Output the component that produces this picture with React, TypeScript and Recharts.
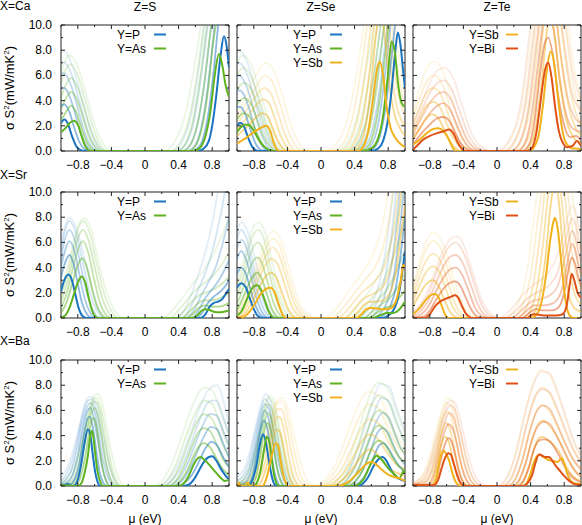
import { LineChart, Line, XAxis, YAxis, ReferenceArea } from 'recharts'

// Power factor sigma*S^2 (mW/mK^2) vs chemical potential mu (eV).
// Each array: first curve = lowest temperature (drawn bold), then hotter curves (drawn fainter).
type Curve = number[][]

const caS_P: Curve[] = [
  [[-1,2.2],[-0.96,2.5],[-0.92,2.2],[-0.87,1.2],[-0.82,0.4],[-0.77,0.08],[-0.72,0],[0.62,0],[0.7,0.2],[0.76,0.8],[0.8,2],[0.85,4.5],[0.9,7.6],[0.94,9.1],[0.97,8.4],[1,6.6]],
  [[-1,3.6],[-0.96,3.7],[-0.9,3.1],[-0.84,1.8],[-0.78,0.7],[-0.72,0.15],[-0.66,0],[0.56,0],[0.64,0.3],[0.7,1.2],[0.76,3.2],[0.82,6.5],[0.88,10.5],[0.94,13]],
  [[-1,5.0],[-0.96,5.0],[-0.9,4.4],[-0.83,2.9],[-0.76,1.3],[-0.69,0.35],[-0.62,0],[0.5,0],[0.59,0.4],[0.66,1.6],[0.73,4.2],[0.8,8.2],[0.86,12]],
  [[-1,6.2],[-0.95,6.1],[-0.88,5.2],[-0.8,3.4],[-0.72,1.5],[-0.64,0.4],[-0.56,0],[0.44,0],[0.54,0.5],[0.62,2],[0.7,5],[0.77,9],[0.84,13]],
  [[-1,7.1],[-0.95,7.0],[-0.87,6.0],[-0.78,3.9],[-0.69,1.8],[-0.6,0.5],[-0.51,0],[0.38,0],[0.49,0.6],[0.58,2.3],[0.66,5.5],[0.74,9.6],[0.82,14]],
  [[-1,8.0],[-0.94,7.8],[-0.86,6.7],[-0.76,4.4],[-0.66,2.0],[-0.56,0.5],[-0.46,0],[0.32,0],[0.44,0.7],[0.54,2.6],[0.63,6],[0.71,10],[0.8,15]],
]
const caS_As: Curve[] = [
  [[-1,1.5],[-0.95,1.8],[-0.9,2.2],[-0.85,2.4],[-0.8,2.1],[-0.76,1.3],[-0.72,0.5],[-0.68,0.1],[-0.64,0],[0.58,0],[0.66,0.3],[0.72,1.2],[0.78,3.2],[0.83,6],[0.88,7.7],[0.92,6.8],[0.96,5.2],[1,4.3]],
  [[-1,2.4],[-0.94,3.1],[-0.88,3.6],[-0.82,3.1],[-0.76,1.9],[-0.7,0.8],[-0.64,0.2],[-0.58,0],[0.52,0],[0.61,0.5],[0.68,1.9],[0.75,4.8],[0.81,8.5],[0.87,11]],
  [[-1,3.3],[-0.94,4.2],[-0.88,4.7],[-0.81,4.1],[-0.74,2.7],[-0.67,1.2],[-0.6,0.35],[-0.53,0],[0.45,0],[0.55,0.6],[0.63,2.3],[0.71,5.6],[0.78,9.5],[0.85,12.5]],
  [[-1,4.2],[-0.94,5.3],[-0.88,5.8],[-0.8,5.0],[-0.72,3.3],[-0.64,1.5],[-0.56,0.4],[-0.48,0],[0.38,0],[0.49,0.7],[0.58,2.7],[0.67,6.4],[0.75,10.5],[0.82,13]],
  [[-1,5.3],[-0.95,6.4],[-0.89,6.9],[-0.8,6.0],[-0.71,4.0],[-0.62,1.9],[-0.53,0.5],[-0.44,0],[0.3,0],[0.43,0.8],[0.54,3],[0.64,7],[0.72,11],[0.8,14]],
  [[-1,6.1],[-0.95,7.2],[-0.9,7.6],[-0.8,6.7],[-0.7,4.5],[-0.6,2.1],[-0.5,0.6],[-0.4,0],[0.22,0],[0.36,0.8],[0.49,3.2],[0.6,7.2],[0.69,11],[0.78,14]],
]
const caSe_P: Curve[] = [
  [[-1,2.0],[-0.96,2.25],[-0.92,2.0],[-0.87,1.1],[-0.82,0.35],[-0.77,0.05],[-0.72,0],[0.6,0],[0.68,0.2],[0.74,0.8],[0.79,2.2],[0.84,4.8],[0.88,7.6],[0.915,9.4],[0.95,8.2],[0.98,6.2],[1,5.0]],
  [[-1,3.5],[-0.96,3.5],[-0.9,2.9],[-0.84,1.7],[-0.78,0.6],[-0.72,0.1],[-0.66,0],[0.56,0],[0.64,0.3],[0.71,1.4],[0.78,4],[0.84,7.5],[0.9,11],[0.96,13]],
  [[-1,4.8],[-0.96,4.8],[-0.9,4.2],[-0.83,2.8],[-0.76,1.2],[-0.69,0.3],[-0.62,0],[0.5,0],[0.59,0.4],[0.67,1.8],[0.74,4.8],[0.81,9],[0.87,12.5]],
  [[-1,6.0],[-0.95,5.9],[-0.88,5.0],[-0.8,3.3],[-0.72,1.5],[-0.64,0.4],[-0.56,0],[0.44,0],[0.54,0.5],[0.63,2.2],[0.71,5.5],[0.78,9.5],[0.85,13]],
  [[-1,7.0],[-0.95,6.9],[-0.87,5.9],[-0.78,3.8],[-0.69,1.7],[-0.6,0.5],[-0.51,0],[0.38,0],[0.49,0.6],[0.59,2.5],[0.67,6],[0.75,10],[0.83,14]],
  [[-1,8.0],[-0.94,7.8],[-0.86,6.7],[-0.76,4.4],[-0.66,2.0],[-0.56,0.5],[-0.46,0],[0.32,0],[0.44,0.7],[0.55,2.8],[0.64,6.5],[0.72,10.5],[0.8,15]],
]
const caSe_As: Curve[] = [
  [[-1,1.5],[-0.95,1.9],[-0.9,2.1],[-0.85,2.05],[-0.8,1.6],[-0.75,1.0],[-0.7,0.5],[-0.65,0.2],[-0.6,0.05],[-0.56,0],[0.5,0],[0.6,0.2],[0.68,1.0],[0.74,2.8],[0.79,5.6],[0.84,8.7],[0.88,7.8],[0.92,5.2],[0.96,3.8],[1,3.5]],
  [[-1,2.5],[-0.92,3.0],[-0.85,2.7],[-0.78,1.7],[-0.71,0.7],[-0.64,0.15],[-0.57,0],[0.46,0],[0.56,0.4],[0.64,1.8],[0.71,4.6],[0.77,8],[0.83,11],[0.9,12.5]],
  [[-1,3.7],[-0.92,4.2],[-0.84,3.8],[-0.76,2.5],[-0.68,1.1],[-0.6,0.3],[-0.52,0],[0.4,0],[0.5,0.5],[0.59,2.1],[0.67,5.4],[0.74,9.3],[0.81,12.5]],
  [[-1,4.8],[-0.92,5.4],[-0.83,4.9],[-0.74,3.3],[-0.65,1.5],[-0.56,0.4],[-0.47,0],[0.33,0],[0.44,0.6],[0.54,2.5],[0.63,6],[0.71,10],[0.79,13.5]],
  [[-1,6.0],[-0.93,6.6],[-0.83,5.9],[-0.73,4.0],[-0.63,1.8],[-0.53,0.5],[-0.43,0],[0.26,0],[0.38,0.7],[0.49,2.8],[0.59,6.5],[0.68,10.5],[0.77,14]],
  [[-1,7.0],[-0.93,7.6],[-0.83,6.8],[-0.72,4.6],[-0.61,2.1],[-0.5,0.6],[-0.39,0],[0.18,0],[0.32,0.8],[0.44,3],[0.55,7],[0.65,11],[0.75,14.5]],
]
const caSe_Sb: Curve[] = [
  [[-1,0.6],[-0.9,1.0],[-0.8,1.5],[-0.7,1.9],[-0.65,2.0],[-0.6,1.5],[-0.56,0.6],[-0.52,0.1],[-0.49,0],[0.44,0],[0.5,0.3],[0.56,1.5],[0.62,4.2],[0.67,6.6],[0.7,7.1],[0.74,6.0],[0.78,3.6],[0.83,1.8],[0.88,1.1],[0.94,0.6],[1,0.3]],
  [[-1,1.2],[-0.9,1.8],[-0.8,2.5],[-0.7,3.0],[-0.64,2.8],[-0.58,1.9],[-0.52,0.9],[-0.46,0.25],[-0.4,0],[0.38,0],[0.46,0.5],[0.54,2.2],[0.6,5.5],[0.66,9.5],[0.71,11],[0.76,9],[0.82,5],[0.88,2.8],[0.94,1.8],[1,1.2]],
  [[-1,1.7],[-0.9,2.5],[-0.8,3.4],[-0.69,4.1],[-0.62,3.8],[-0.55,2.6],[-0.48,1.2],[-0.41,0.35],[-0.34,0],[0.3,0],[0.4,0.6],[0.5,2.6],[0.58,6.5],[0.65,11],[0.71,12.5],[0.77,10.5],[0.84,6],[0.9,3.6],[0.96,2.4],[1,2]],
  [[-1,2.1],[-0.9,3.1],[-0.79,4.2],[-0.68,5.0],[-0.6,4.6],[-0.52,3.2],[-0.44,1.5],[-0.36,0.4],[-0.28,0],[0.22,0],[0.34,0.7],[0.45,3],[0.55,7.5],[0.63,12],[0.71,14],[0.78,12],[0.86,7],[0.93,4.2],[1,2.8]],
  [[-1,2.5],[-0.9,3.7],[-0.78,5.0],[-0.67,6.0],[-0.58,5.5],[-0.49,3.8],[-0.4,1.8],[-0.31,0.5],[-0.22,0],[0.14,0],[0.28,0.8],[0.4,3.4],[0.51,8],[0.61,13],[0.71,15],[0.8,13],[0.88,8],[0.95,5],[1,3.6]],
  [[-1,2.9],[-0.9,4.3],[-0.78,5.9],[-0.66,7.0],[-0.56,6.4],[-0.46,4.4],[-0.36,2.1],[-0.26,0.6],[-0.16,0],[0.06,0],[0.22,0.9],[0.36,3.8],[0.48,8.5],[0.59,14],[0.71,16],[0.82,14],[0.9,9],[1,4.5]],
]
const caTe_Sb: Curve[] = [
  [[-1,0.5],[-0.92,0.9],[-0.84,1.4],[-0.76,1.75],[-0.7,1.8],[-0.64,1.6],[-0.58,1.0],[-0.53,0.3],[-0.49,0],[0.38,0],[0.44,0.3],[0.5,1.4],[0.55,3.8],[0.6,6.8],[0.64,7.9],[0.68,7.0],[0.72,4.6],[0.76,2.4],[0.8,1.0],[0.85,0.4],[0.9,0.2],[0.95,0.2],[1,0.1]],
  [[-1,1.0],[-0.92,1.8],[-0.84,2.6],[-0.77,2.9],[-0.7,2.6],[-0.62,1.6],[-0.55,0.7],[-0.49,0.2],[-0.44,0],[0.32,0],[0.4,0.5],[0.47,2.2],[0.54,6],[0.6,9.8],[0.64,10.5],[0.69,9],[0.75,5.5],[0.82,2.6],[0.9,1.2],[1,0.6]],
  [[-1,1.5],[-0.92,2.6],[-0.84,3.6],[-0.76,3.9],[-0.68,3.5],[-0.6,2.2],[-0.52,1.0],[-0.44,0.3],[-0.37,0],[0.25,0],[0.34,0.6],[0.43,2.6],[0.51,7],[0.58,11.5],[0.64,12.5],[0.7,11],[0.77,7],[0.85,3.6],[0.93,1.9],[1,1.2]],
  [[-1,2.1],[-0.92,3.4],[-0.84,4.6],[-0.76,5.0],[-0.67,4.5],[-0.58,2.9],[-0.49,1.3],[-0.4,0.35],[-0.3,0],[0.18,0],[0.28,0.7],[0.38,3],[0.48,8],[0.56,13],[0.64,14.5],[0.71,13],[0.79,8.5],[0.88,4.5],[0.95,2.8],[1,2]],
  [[-1,2.6],[-0.92,4.2],[-0.84,5.5],[-0.75,6.0],[-0.66,5.4],[-0.56,3.5],[-0.46,1.6],[-0.36,0.45],[-0.23,0],[0.1,0],[0.22,0.8],[0.34,3.4],[0.45,9],[0.55,14],[0.64,16],[0.72,14.5],[0.81,10],[0.9,5.5],[1,3]],
  [[-1,3.1],[-0.92,5.0],[-0.84,6.5],[-0.75,7.1],[-0.65,6.4],[-0.54,4.2],[-0.43,1.9],[-0.32,0.5],[-0.16,0],[0.02,0],[0.16,0.9],[0.3,3.8],[0.42,10],[0.53,15],[0.64,17],[0.73,15.5],[0.83,11],[0.92,6.5],[1,4]],
]
const caTe_Bi: Curve[] = [
  [[-1,0.1],[-0.94,0.5],[-0.88,0.9],[-0.8,1.2],[-0.72,1.4],[-0.64,1.55],[-0.57,1.7],[-0.52,1.4],[-0.47,0.7],[-0.42,0.2],[-0.38,0],[0.36,0],[0.42,0.3],[0.47,1.5],[0.52,4.0],[0.57,6.4],[0.61,7.0],[0.65,5.8],[0.69,3.6],[0.73,1.8],[0.78,0.7],[0.84,0.3],[0.9,0.4],[0.95,0.8],[1,0.4]],
  [[-1,0.5],[-0.9,1.4],[-0.8,2.1],[-0.71,2.6],[-0.64,2.7],[-0.57,2.4],[-0.5,1.5],[-0.43,0.6],[-0.36,0.15],[-0.3,0],[0.3,0],[0.38,0.5],[0.45,2.5],[0.51,6],[0.57,8.6],[0.61,9.0],[0.66,7.8],[0.72,4.8],[0.79,2.3],[0.87,1.1],[0.94,1.2],[1,0.8]],
  [[-1,0.9],[-0.9,2.0],[-0.8,3.0],[-0.71,3.6],[-0.64,3.8],[-0.56,3.3],[-0.48,2.1],[-0.4,0.9],[-0.32,0.2],[-0.23,0],[0.24,0],[0.33,0.6],[0.41,2.8],[0.49,7],[0.56,10.5],[0.61,11],[0.67,9.8],[0.74,6],[0.82,3],[0.9,1.8],[1,1.5]],
  [[-1,1.3],[-0.9,2.6],[-0.8,3.8],[-0.71,4.5],[-0.63,4.7],[-0.55,4.1],[-0.46,2.6],[-0.37,1.1],[-0.27,0.25],[-0.16,0],[0.16,0],[0.27,0.7],[0.37,3.2],[0.46,8],[0.54,12],[0.61,13],[0.68,11.5],[0.76,7.5],[0.85,4],[0.93,2.6],[1,2.2]],
  [[-1,1.7],[-0.9,3.2],[-0.8,4.6],[-0.71,5.4],[-0.63,5.6],[-0.54,4.9],[-0.44,3.1],[-0.34,1.3],[-0.23,0.3],[-0.1,0],[0.08,0],[0.21,0.8],[0.33,3.6],[0.43,9],[0.52,13.5],[0.61,15],[0.7,13],[0.79,9],[0.88,5],[1,3.2]],
  [[-1,2.1],[-0.9,3.8],[-0.8,5.4],[-0.71,6.4],[-0.62,6.6],[-0.52,5.8],[-0.42,3.7],[-0.31,1.5],[-0.19,0.35],[-0.04,0],[0,0],[0.15,0.9],[0.29,4],[0.4,10],[0.5,15],[0.61,17],[0.71,15],[0.81,10.5],[0.91,6],[1,4]],
]
const srS_P: Curve[] = [
  [[-1,2.1],[-0.96,3.0],[-0.91,3.45],[-0.87,3.0],[-0.83,1.9],[-0.79,0.8],[-0.75,0.2],[-0.7,0],[0.66,0],[0.72,0.3],[0.77,0.9],[0.82,1.2],[0.87,1.3],[0.92,1.5],[0.96,1.9],[1,2.3]],
  [[-1,3.2],[-0.95,4.4],[-0.9,5.0],[-0.85,4.3],[-0.8,2.7],[-0.75,1.2],[-0.69,0.3],[-0.63,0],[0.6,0],[0.68,0.4],[0.75,1.2],[0.82,1.7],[0.88,2.0],[0.94,2.4],[1,3.0]],
  [[-1,4.0],[-0.95,5.4],[-0.9,6.1],[-0.84,5.3],[-0.78,3.4],[-0.72,1.6],[-0.65,0.4],[-0.58,0],[0.54,0],[0.63,0.5],[0.71,1.5],[0.79,2.2],[0.86,2.8],[0.93,3.6],[1,4.6]],
  [[-1,4.7],[-0.95,6.3],[-0.9,7.0],[-0.83,6.1],[-0.76,4.0],[-0.69,1.9],[-0.61,0.5],[-0.53,0],[0.48,0],[0.58,0.6],[0.67,1.8],[0.76,2.9],[0.84,4.0],[0.92,5.8],[1,8]],
  [[-1,5.3],[-0.95,7.0],[-0.9,7.7],[-0.82,6.7],[-0.74,4.4],[-0.66,2.1],[-0.57,0.55],[-0.48,0],[0.42,0],[0.53,0.7],[0.63,2.2],[0.73,3.8],[0.82,5.8],[0.91,8.5],[1,12]],
  [[-1,5.8],[-0.95,7.3],[-0.9,7.95],[-0.81,7.0],[-0.72,4.7],[-0.63,2.3],[-0.54,0.6],[-0.44,0],[0.36,0],[0.48,0.8],[0.59,2.6],[0.7,4.8],[0.8,7.5],[0.9,11.5],[1,16]],
]
const srS_As: Curve[] = [
  [[-1,0.05],[-0.95,0.2],[-0.9,0.8],[-0.85,1.8],[-0.8,2.8],[-0.755,3.3],[-0.71,2.8],[-0.67,1.6],[-0.63,0.6],[-0.59,0.1],[-0.55,0],[0.56,0],[0.62,0.2],[0.67,0.55],[0.71,0.7],[0.76,0.65],[0.82,0.5],[0.88,0.45],[0.94,0.5],[1,0.6]],
  [[-1,0.4],[-0.93,1.3],[-0.86,2.9],[-0.8,4.2],[-0.745,4.75],[-0.69,4.0],[-0.63,2.3],[-0.57,0.9],[-0.51,0.2],[-0.46,0],[0.5,0],[0.58,0.4],[0.65,0.85],[0.72,1.0],[0.8,0.9],[0.88,0.9],[0.94,1.0],[1,1.2]],
  [[-1,0.8],[-0.93,2.0],[-0.86,3.9],[-0.8,5.4],[-0.74,6.1],[-0.68,5.3],[-0.61,3.2],[-0.54,1.3],[-0.47,0.3],[-0.41,0],[0.44,0],[0.53,0.5],[0.62,1.1],[0.7,1.4],[0.78,1.4],[0.86,1.5],[0.93,1.7],[1,2.0]],
  [[-1,1.3],[-0.93,2.7],[-0.86,4.7],[-0.8,6.3],[-0.735,7.0],[-0.67,6.1],[-0.59,3.8],[-0.51,1.6],[-0.43,0.4],[-0.36,0],[0.37,0],[0.47,0.6],[0.57,1.4],[0.67,1.9],[0.76,2.1],[0.85,2.4],[0.93,2.8],[1,3.3]],
  [[-1,1.8],[-0.93,3.3],[-0.86,5.3],[-0.8,7.0],[-0.73,7.7],[-0.66,6.8],[-0.57,4.2],[-0.48,1.8],[-0.39,0.45],[-0.31,0],[0.3,0],[0.41,0.7],[0.52,1.6],[0.63,2.4],[0.73,2.9],[0.83,3.5],[0.92,4.3],[1,5.2]],
  [[-1,2.3],[-0.93,3.8],[-0.86,5.8],[-0.79,7.4],[-0.72,7.95],[-0.64,7.0],[-0.55,4.4],[-0.45,1.9],[-0.35,0.5],[-0.26,0],[0.22,0],[0.35,0.8],[0.47,1.8],[0.59,2.9],[0.7,3.8],[0.8,4.9],[0.9,6.3],[1,8]],
]
const srSe_P: Curve[] = [
  [[-1,2.4],[-0.95,2.75],[-0.9,2.5],[-0.85,1.6],[-0.8,0.7],[-0.75,0.15],[-0.7,0],[0.74,0],[0.8,0.2],[0.86,0.6],[0.9,1.2],[0.94,2.4],[0.97,3.8],[1,5.3]],
  [[-1,3.5],[-0.95,4.0],[-0.9,3.6],[-0.84,2.3],[-0.78,1.0],[-0.72,0.25],[-0.65,0],[0.68,0],[0.76,0.3],[0.83,1.0],[0.89,2.4],[0.94,4.6],[1,8]],
  [[-1,4.7],[-0.95,5.3],[-0.9,4.8],[-0.83,3.2],[-0.76,1.4],[-0.69,0.35],[-0.61,0],[0.62,0],[0.71,0.4],[0.79,1.3],[0.86,3.0],[0.92,6],[1,11]],
  [[-1,5.5],[-0.95,6.2],[-0.89,5.6],[-0.82,3.8],[-0.74,1.7],[-0.66,0.45],[-0.57,0],[0.56,0],[0.66,0.5],[0.75,1.6],[0.83,3.8],[0.9,7.5],[0.97,12.5]],
  [[-1,6.3],[-0.95,7.0],[-0.89,6.4],[-0.81,4.3],[-0.72,2.0],[-0.63,0.5],[-0.53,0],[0.5,0],[0.61,0.6],[0.71,1.9],[0.8,4.6],[0.88,9],[0.95,14]],
  [[-1,6.9],[-0.95,7.6],[-0.88,7.0],[-0.79,4.8],[-0.7,2.2],[-0.6,0.6],[-0.49,0],[0.44,0],[0.56,0.7],[0.67,2.2],[0.77,5.4],[0.86,10],[0.94,15]],
]
const srSe_As: Curve[] = [
  [[-1,0.2],[-0.95,0.5],[-0.9,1.2],[-0.85,2.0],[-0.8,2.5],[-0.76,2.6],[-0.72,2.3],[-0.67,1.4],[-0.62,0.5],[-0.58,0.1],[-0.55,0],[0.6,0],[0.7,0.2],[0.78,0.4],[0.86,0.4],[0.92,0.6],[0.96,0.9],[1,1.3]],
  [[-1,0.6],[-0.93,1.6],[-0.86,2.7],[-0.8,3.4],[-0.76,3.6],[-0.71,3.2],[-0.65,2.0],[-0.59,0.8],[-0.53,0.15],[-0.48,0],[0.56,0],[0.66,0.4],[0.76,0.8],[0.85,1.0],[0.92,1.5],[1,2.2]],
  [[-1,1.1],[-0.93,2.3],[-0.86,3.7],[-0.8,4.6],[-0.755,4.8],[-0.7,4.3],[-0.63,2.7],[-0.56,1.1],[-0.49,0.25],[-0.43,0],[0.5,0],[0.61,0.5],[0.72,1.1],[0.82,1.6],[0.91,2.4],[1,3.6]],
  [[-1,1.7],[-0.93,3.1],[-0.86,4.7],[-0.8,5.7],[-0.75,6.0],[-0.69,5.4],[-0.61,3.4],[-0.53,1.4],[-0.45,0.3],[-0.38,0],[0.43,0],[0.55,0.6],[0.67,1.4],[0.78,2.2],[0.89,3.6],[1,5.4]],
  [[-1,2.3],[-0.93,3.8],[-0.86,5.5],[-0.8,6.7],[-0.745,7.0],[-0.68,6.3],[-0.6,4.0],[-0.51,1.7],[-0.42,0.4],[-0.34,0],[0.36,0],[0.49,0.7],[0.62,1.7],[0.74,2.9],[0.86,4.8],[1,8]],
  [[-1,2.8],[-0.93,4.4],[-0.86,6.1],[-0.8,7.3],[-0.74,7.6],[-0.67,6.9],[-0.58,4.4],[-0.49,1.9],[-0.39,0.45],[-0.3,0],[0.28,0],[0.42,0.8],[0.56,2.0],[0.7,3.6],[0.83,6],[0.93,8.5],[1,11]],
]
const srSe_Sb: Curve[] = [
  [[-1,0],[-0.92,0.1],[-0.85,0.5],[-0.78,1.2],[-0.72,1.9],[-0.66,2.3],[-0.6,2.4],[-0.55,2.0],[-0.5,1.0],[-0.46,0.3],[-0.42,0],[0.42,0],[0.48,0.3],[0.54,0.7],[0.6,0.8],[0.66,0.75],[0.72,0.7],[0.78,0.7],[0.84,0.8],[0.9,1.5],[0.95,3.0],[0.98,4.2],[1,4.0]],
  [[-1,0],[-0.92,0.3],[-0.84,1.0],[-0.76,2.1],[-0.68,3.1],[-0.6,3.6],[-0.53,3.2],[-0.46,1.9],[-0.39,0.7],[-0.32,0.1],[-0.27,0],[0.36,0],[0.44,0.5],[0.52,1.1],[0.6,1.3],[0.68,1.3],[0.76,1.5],[0.84,2.3],[0.9,4],[0.96,7],[1,9]],
  [[-1,0.1],[-0.92,0.6],[-0.84,1.5],[-0.76,2.8],[-0.67,4.1],[-0.59,4.7],[-0.51,4.2],[-0.43,2.6],[-0.35,1.0],[-0.27,0.2],[-0.2,0],[0.28,0],[0.38,0.6],[0.48,1.4],[0.58,1.8],[0.67,2.1],[0.76,2.7],[0.84,4.2],[0.91,7],[0.97,11]],
  [[-1,0.25],[-0.92,0.9],[-0.84,2.0],[-0.75,3.5],[-0.66,4.9],[-0.58,5.6],[-0.5,5.0],[-0.41,3.1],[-0.32,1.2],[-0.23,0.25],[-0.14,0],[0.2,0],[0.32,0.7],[0.44,1.7],[0.55,2.4],[0.65,3.0],[0.75,4.0],[0.84,6.2],[0.92,10],[0.98,14]],
  [[-1,0.4],[-0.92,1.2],[-0.84,2.4],[-0.75,4.0],[-0.66,5.5],[-0.57,6.3],[-0.49,5.7],[-0.4,3.6],[-0.3,1.4],[-0.2,0.3],[-0.1,0],[0.12,0],[0.26,0.8],[0.4,2.0],[0.52,3.0],[0.63,3.9],[0.73,5.4],[0.82,8.2],[0.9,12.5]],
  [[-1,0.6],[-0.92,1.5],[-0.84,2.8],[-0.75,4.5],[-0.66,6.1],[-0.57,6.9],[-0.48,6.2],[-0.38,4.0],[-0.28,1.6],[-0.17,0.35],[-0.05,0],[0.04,0],[0.2,0.9],[0.35,2.3],[0.48,3.5],[0.6,4.8],[0.71,6.8],[0.8,10],[0.88,14.5]],
]
const srTe_Sb: Curve[] = [
  [[-1,0.3],[-0.92,0.8],[-0.84,1.5],[-0.78,1.85],[-0.74,1.9],[-0.7,1.7],[-0.66,1.0],[-0.62,0.3],[-0.58,0],[0.4,0],[0.46,0.2],[0.52,1.0],[0.58,3.2],[0.63,6.0],[0.67,7.6],[0.69,7.95],[0.72,7.2],[0.76,4.8],[0.8,2.2],[0.84,0.6],[0.88,0.1],[0.92,0],[1,0]],
  [[-1,0.9],[-0.92,1.9],[-0.84,2.7],[-0.77,3.0],[-0.7,2.6],[-0.63,1.5],[-0.56,0.5],[-0.5,0.1],[-0.45,0],[0.36,0],[0.44,0.4],[0.51,1.8],[0.58,5],[0.64,9],[0.69,10.8],[0.74,9],[0.79,5],[0.85,2],[0.92,0.8],[1,0.5]],
  [[-1,1.3],[-0.92,2.6],[-0.84,3.7],[-0.76,4.1],[-0.68,3.6],[-0.6,2.1],[-0.52,0.8],[-0.44,0.15],[-0.38,0],[0.3,0],[0.39,0.5],[0.47,2.2],[0.55,6],[0.62,10.5],[0.69,12.5],[0.75,10.5],[0.82,6],[0.89,2.8],[0.95,1.5],[1,1.1]],
  [[-1,1.7],[-0.92,3.3],[-0.84,4.6],[-0.76,5.1],[-0.67,4.5],[-0.58,2.7],[-0.49,1.0],[-0.4,0.2],[-0.31,0],[0.23,0],[0.33,0.6],[0.43,2.6],[0.52,7],[0.6,12],[0.69,14],[0.77,12],[0.85,7],[0.93,3.8],[1,2.2]],
  [[-1,2.1],[-0.92,4.0],[-0.84,5.5],[-0.76,6.1],[-0.66,5.4],[-0.56,3.3],[-0.46,1.3],[-0.36,0.3],[-0.25,0],[0.16,0],[0.28,0.7],[0.39,3],[0.49,8],[0.59,13],[0.69,15.5],[0.78,13.5],[0.87,8.5],[0.95,4.8],[1,3.4]],
  [[-1,2.4],[-0.92,4.5],[-0.84,6.1],[-0.75,6.8],[-0.65,6.0],[-0.54,3.7],[-0.43,1.5],[-0.32,0.35],[-0.19,0],[0.08,0],[0.22,0.8],[0.35,3.4],[0.46,9],[0.57,14],[0.69,17],[0.79,15],[0.89,10],[1,5]],
]
const srTe_Bi: Curve[] = [
  [[-1,0],[-0.86,0],[-0.8,0.3],[-0.74,0.9],[-0.68,1.3],[-0.62,1.5],[-0.56,1.65],[-0.5,1.8],[-0.46,1.6],[-0.42,1.0],[-0.37,0.35],[-0.32,0.05],[-0.29,0],[0.36,0],[0.4,0.2],[0.44,0.3],[0.5,0.25],[0.6,0.2],[0.7,0.2],[0.78,0.3],[0.83,1.0],[0.86,2.4],[0.89,3.5],[0.92,3.0],[0.96,2.0],[1,1.6]],
  [[-1,0],[-0.88,0.1],[-0.8,0.6],[-0.72,1.5],[-0.64,2.3],[-0.56,2.8],[-0.5,2.9],[-0.44,2.6],[-0.37,1.6],[-0.3,0.6],[-0.23,0.1],[-0.18,0],[0.3,0],[0.38,0.4],[0.46,0.7],[0.56,0.6],[0.66,0.6],[0.74,0.9],[0.8,2],[0.85,3.8],[0.89,4.8],[0.93,4.3],[0.97,3.2],[1,2.6]],
  [[-1,0.05],[-0.9,0.3],[-0.81,1.0],[-0.72,2.2],[-0.63,3.3],[-0.55,3.9],[-0.49,4.0],[-0.42,3.5],[-0.34,2.2],[-0.26,0.8],[-0.18,0.15],[-0.11,0],[0.24,0],[0.34,0.5],[0.44,1.0],[0.54,1.0],[0.64,1.1],[0.73,1.6],[0.8,3],[0.85,4.8],[0.89,5.9],[0.93,5.4],[0.97,4.2],[1,3.5]],
  [[-1,0.15],[-0.9,0.6],[-0.81,1.5],[-0.72,2.9],[-0.63,4.2],[-0.55,4.9],[-0.49,5.0],[-0.41,4.4],[-0.32,2.8],[-0.23,1.1],[-0.14,0.2],[-0.05,0],[0.17,0],[0.29,0.6],[0.41,1.3],[0.52,1.5],[0.63,1.8],[0.72,2.5],[0.79,4.2],[0.85,6],[0.89,6.9],[0.93,6.5],[0.97,5.2],[1,4.4]],
  [[-1,0.3],[-0.9,0.9],[-0.81,2.0],[-0.72,3.6],[-0.63,5.0],[-0.55,5.8],[-0.49,6.0],[-0.4,5.2],[-0.3,3.3],[-0.2,1.3],[-0.1,0.25],[0,0],[0.1,0],[0.24,0.7],[0.37,1.6],[0.5,2.1],[0.62,2.6],[0.72,3.6],[0.79,5.4],[0.85,7],[0.89,7.9],[0.93,7.5],[0.97,6.2],[1,5.4]],
  [[-1,0.5],[-0.9,1.2],[-0.81,2.4],[-0.72,4.0],[-0.63,5.5],[-0.55,6.3],[-0.48,6.5],[-0.39,5.7],[-0.29,3.6],[-0.18,1.4],[-0.07,0.3],[0.03,0],[0.18,0.8],[0.33,2.0],[0.47,2.8],[0.6,3.5],[0.71,4.8],[0.79,6.6],[0.85,8.2],[0.89,8.9],[0.93,8.6],[0.97,7.3],[1,6.4]],
]
const baS_P: Curve[] = [
  [[-1,0.1],[-0.96,0.05],[-0.92,0.15],[-0.88,0],[-0.84,0.05],[-0.8,0.5],[-0.76,1.7],[-0.72,3.4],[-0.68,4.5],[-0.65,4.0],[-0.62,2.4],[-0.59,1.0],[-0.56,0.25],[-0.53,0],[0.46,0],[0.52,0.1],[0.58,0.5],[0.64,1.2],[0.7,1.9],[0.76,2.3],[0.8,2.36],[0.85,2.0],[0.9,1.4],[0.95,0.9],[1,0.5]],
  [[-1,0.05],[-0.9,0.1],[-0.84,0.5],[-0.78,1.8],[-0.73,4.0],[-0.68,5.4],[-0.655,5.5],[-0.62,4.6],[-0.58,2.8],[-0.54,1.1],[-0.5,0.3],[-0.46,0],[0.4,0],[0.48,0.3],[0.56,0.9],[0.64,1.9],[0.72,3.0],[0.79,3.5],[0.86,3.2],[0.93,2.3],[1,1.5]],
  [[-1,0.1],[-0.92,0.3],[-0.86,0.9],[-0.8,2.4],[-0.74,4.6],[-0.69,5.9],[-0.65,6.2],[-0.61,5.4],[-0.56,3.5],[-0.51,1.5],[-0.46,0.4],[-0.42,0],[0.34,0],[0.43,0.35],[0.52,1.2],[0.61,2.5],[0.7,3.9],[0.78,4.7],[0.86,4.5],[0.93,3.4],[1,2.3]],
  [[-1,0.2],[-0.93,0.6],[-0.87,1.4],[-0.81,3.0],[-0.75,5.0],[-0.69,6.3],[-0.645,6.6],[-0.6,5.9],[-0.55,4.0],[-0.49,1.8],[-0.43,0.5],[-0.38,0],[0.28,0],[0.38,0.4],[0.48,1.4],[0.58,3.0],[0.68,4.7],[0.77,5.7],[0.85,5.6],[0.93,4.4],[1,3.2]],
  [[-1,0.4],[-0.93,1.0],[-0.87,2.0],[-0.81,3.6],[-0.75,5.5],[-0.69,6.7],[-0.64,6.9],[-0.59,6.2],[-0.53,4.2],[-0.47,2.0],[-0.41,0.6],[-0.34,0],[0.22,0],[0.33,0.5],[0.44,1.6],[0.55,3.4],[0.66,5.4],[0.76,6.7],[0.85,6.8],[0.93,5.5],[1,4.1]],
  [[-1,0.7],[-0.93,1.4],[-0.87,2.5],[-0.8,4.2],[-0.74,5.9],[-0.68,7.0],[-0.63,7.1],[-0.57,6.3],[-0.51,4.3],[-0.44,2.1],[-0.37,0.6],[-0.3,0],[0.16,0],[0.28,0.5],[0.4,1.8],[0.52,3.8],[0.64,6.0],[0.75,7.6],[0.86,8.0],[0.94,6.6],[1,5.0]],
]
const baS_As: Curve[] = [
  [[-1,0.05],[-0.8,0],[-0.76,0.2],[-0.72,1.0],[-0.68,2.4],[-0.655,3.8],[-0.635,4.4],[-0.615,3.9],[-0.59,2.4],[-0.56,1.0],[-0.53,0.3],[-0.5,0],[0.4,0],[0.46,0.2],[0.52,0.8],[0.58,1.7],[0.63,2.2],[0.66,2.3],[0.72,2.0],[0.8,1.4],[0.88,0.8],[0.95,0.4],[1,0.5]],
  [[-1,0],[-0.84,0.05],[-0.78,0.5],[-0.72,2.0],[-0.67,4.0],[-0.63,5.3],[-0.61,5.4],[-0.58,4.8],[-0.54,3.0],[-0.5,1.3],[-0.46,0.35],[-0.42,0],[0.34,0],[0.42,0.4],[0.5,1.2],[0.58,2.4],[0.65,3.2],[0.7,3.4],[0.77,3.1],[0.85,2.2],[0.93,1.3],[1,0.9]],
  [[-1,0.05],[-0.86,0.2],[-0.8,0.8],[-0.74,2.5],[-0.68,4.6],[-0.63,5.9],[-0.6,6.2],[-0.56,5.6],[-0.51,3.7],[-0.46,1.7],[-0.41,0.5],[-0.36,0],[0.28,0],[0.37,0.45],[0.46,1.5],[0.55,3.0],[0.63,4.2],[0.7,4.6],[0.78,4.3],[0.86,3.2],[0.94,2.0],[1,1.5]],
  [[-1,0.1],[-0.87,0.4],[-0.81,1.2],[-0.75,3.0],[-0.68,5.1],[-0.63,6.4],[-0.59,6.7],[-0.54,6.0],[-0.49,4.1],[-0.43,1.9],[-0.37,0.55],[-0.31,0],[0.22,0],[0.32,0.5],[0.42,1.7],[0.52,3.5],[0.61,5.0],[0.7,5.7],[0.79,5.4],[0.88,4.1],[0.95,2.9],[1,2.3]],
  [[-1,0.2],[-0.88,0.7],[-0.82,1.6],[-0.75,3.4],[-0.68,5.5],[-0.62,6.8],[-0.58,7.0],[-0.53,6.3],[-0.47,4.3],[-0.41,2.0],[-0.35,0.6],[-0.28,0],[0.16,0],[0.27,0.55],[0.38,1.9],[0.49,4.0],[0.6,5.8],[0.7,6.8],[0.8,6.5],[0.89,5.0],[0.96,3.7],[1,3.2]],
  [[-1,0.4],[-0.89,1.0],[-0.82,2.0],[-0.75,3.8],[-0.68,5.8],[-0.62,7.0],[-0.57,7.3],[-0.51,6.6],[-0.45,4.5],[-0.38,2.1],[-0.31,0.6],[-0.24,0],[0.1,0],[0.22,0.6],[0.34,2.1],[0.46,4.4],[0.58,6.6],[0.7,7.8],[0.8,7.6],[0.9,5.9],[1,4.0]],
]
const baSe_P: Curve[] = [
  [[-1,0],[-0.86,0],[-0.82,0.4],[-0.77,1.6],[-0.73,3.2],[-0.69,4.1],[-0.66,3.6],[-0.62,2.0],[-0.58,0.6],[-0.55,0.1],[-0.52,0],[0.44,0],[0.5,0.2],[0.56,0.7],[0.62,1.5],[0.68,2.1],[0.73,2.3],[0.78,2.0],[0.84,1.2],[0.9,0.7],[0.95,0.5],[1,0.4]],
  [[-1,0],[-0.88,0.1],[-0.82,0.7],[-0.77,2.4],[-0.72,4.4],[-0.68,5.2],[-0.64,4.6],[-0.6,3.0],[-0.56,1.3],[-0.52,0.35],[-0.48,0],[0.38,0],[0.46,0.3],[0.54,1.0],[0.62,2.2],[0.69,3.2],[0.74,3.4],[0.8,3.0],[0.87,2.2],[0.94,1.5],[1,1.1]],
  [[-1,0.1],[-0.9,0.3],[-0.84,1.1],[-0.78,2.9],[-0.72,4.9],[-0.67,6.0],[-0.63,5.5],[-0.58,3.7],[-0.53,1.7],[-0.48,0.5],[-0.43,0],[0.32,0],[0.41,0.35],[0.5,1.3],[0.59,2.8],[0.67,4.2],[0.73,4.6],[0.8,4.2],[0.87,3.1],[0.94,2.2],[1,1.7]],
  [[-1,0.2],[-0.91,0.6],[-0.85,1.5],[-0.79,3.3],[-0.73,5.3],[-0.67,6.5],[-0.62,6.1],[-0.57,4.2],[-0.51,2.0],[-0.45,0.6],[-0.39,0],[0.26,0],[0.36,0.4],[0.46,1.5],[0.56,3.3],[0.65,5.0],[0.73,5.8],[0.81,5.4],[0.89,4.0],[0.95,3.0],[1,2.5]],
  [[-1,0.4],[-0.92,0.9],[-0.86,1.9],[-0.8,3.7],[-0.73,5.7],[-0.67,6.9],[-0.62,6.5],[-0.56,4.5],[-0.49,2.2],[-0.42,0.7],[-0.35,0],[0.2,0],[0.31,0.5],[0.42,1.7],[0.53,3.8],[0.63,5.8],[0.72,7.0],[0.81,6.7],[0.9,5.1],[1,3.4]],
  [[-1,0.7],[-0.92,1.3],[-0.86,2.4],[-0.8,4.1],[-0.73,6.1],[-0.66,7.3],[-0.61,6.9],[-0.54,4.8],[-0.47,2.4],[-0.39,0.7],[-0.31,0],[0.14,0],[0.26,0.5],[0.38,1.9],[0.5,4.2],[0.61,6.6],[0.71,8.1],[0.81,7.9],[0.9,6.2],[1,4.4]],
]
const baSe_As: Curve[] = [
  [[-1,0],[-0.8,0],[-0.76,0.3],[-0.72,1.2],[-0.68,2.8],[-0.645,3.9],[-0.61,3.3],[-0.58,1.8],[-0.55,0.6],[-0.52,0.1],[-0.49,0],[0.38,0],[0.46,0.2],[0.52,0.7],[0.58,1.6],[0.63,2.2],[0.66,2.4],[0.72,2.1],[0.8,1.4],[0.88,0.9],[0.93,0.6],[0.96,0.9],[0.98,1.2],[1,1.0]],
  [[-1,0],[-0.84,0.05],[-0.78,0.6],[-0.73,2.2],[-0.68,4.2],[-0.64,5.0],[-0.6,4.5],[-0.56,2.9],[-0.52,1.3],[-0.48,0.35],[-0.44,0],[0.32,0],[0.41,0.4],[0.5,1.3],[0.58,2.6],[0.64,3.4],[0.69,3.6],[0.76,3.3],[0.84,2.4],[0.92,1.6],[1,1.3]],
  [[-1,0.05],[-0.86,0.2],[-0.8,0.9],[-0.74,2.7],[-0.68,4.8],[-0.63,5.8],[-0.59,5.3],[-0.54,3.6],[-0.49,1.7],[-0.44,0.5],[-0.39,0],[0.26,0],[0.36,0.45],[0.46,1.6],[0.55,3.3],[0.63,4.5],[0.69,4.8],[0.77,4.4],[0.85,3.3],[0.93,2.3],[1,1.9]],
  [[-1,0.1],[-0.87,0.4],[-0.81,1.3],[-0.75,3.2],[-0.68,5.4],[-0.625,6.5],[-0.58,6.0],[-0.52,4.1],[-0.46,1.9],[-0.4,0.55],[-0.34,0],[0.2,0],[0.31,0.5],[0.42,1.8],[0.52,3.8],[0.61,5.4],[0.69,6.0],[0.78,5.6],[0.87,4.2],[0.95,3.0],[1,2.6]],
  [[-1,0.2],[-0.88,0.7],[-0.82,1.7],[-0.75,3.6],[-0.68,5.9],[-0.62,7.0],[-0.57,6.5],[-0.5,4.4],[-0.43,2.0],[-0.36,0.6],[-0.29,0],[0.14,0],[0.26,0.55],[0.38,2.0],[0.49,4.3],[0.59,6.3],[0.69,7.2],[0.79,6.8],[0.89,5.1],[1,3.4]],
  [[-1,0.4],[-0.89,1.0],[-0.82,2.1],[-0.75,4.0],[-0.68,6.2],[-0.615,7.2],[-0.56,6.8],[-0.49,4.6],[-0.41,2.1],[-0.33,0.6],[-0.25,0],[0.08,0],[0.21,0.6],[0.34,2.2],[0.46,4.7],[0.57,7.0],[0.68,8.2],[0.79,7.8],[0.9,5.9],[1,4.0]],
]
const baSe_Sb: Curve[] = [
  [[-1,0],[-0.98,0.25],[-0.96,0],[-0.9,0],[-0.87,0.25],[-0.84,0],[-0.7,0],[-0.66,0.4],[-0.62,1.4],[-0.58,2.6],[-0.54,3.4],[-0.51,3.2],[-0.48,2.0],[-0.45,0.9],[-0.42,0.3],[-0.39,0],[0.18,0],[0.26,0.1],[0.34,0.4],[0.42,0.9],[0.5,1.5],[0.56,1.85],[0.6,1.9],[0.66,1.7],[0.72,1.3],[0.8,0.9],[0.88,0.7],[0.94,0.6],[1,0.4]],
  [[-1,0],[-0.76,0],[-0.7,0.5],[-0.64,1.8],[-0.58,3.5],[-0.53,4.5],[-0.49,4.3],[-0.45,3.2],[-0.41,1.7],[-0.37,0.6],[-0.33,0.1],[-0.3,0],[0.12,0],[0.22,0.3],[0.32,0.9],[0.42,1.8],[0.51,2.6],[0.58,2.9],[0.66,2.6],[0.75,1.9],[0.84,1.3],[0.92,1.0],[1,0.8]],
  [[-1,0],[-0.8,0.1],[-0.72,0.8],[-0.65,2.3],[-0.58,4.3],[-0.52,5.5],[-0.48,5.4],[-0.43,4.1],[-0.38,2.2],[-0.33,0.8],[-0.28,0.15],[-0.24,0],[0.06,0],[0.17,0.35],[0.28,1.1],[0.39,2.4],[0.49,3.6],[0.58,4.1],[0.67,3.8],[0.77,2.8],[0.87,1.9],[1,1.3]],
  [[-1,0.05],[-0.82,0.3],[-0.74,1.1],[-0.66,2.8],[-0.58,4.9],[-0.52,6.1],[-0.47,6.1],[-0.41,4.7],[-0.35,2.6],[-0.29,0.9],[-0.23,0.2],[-0.18,0],[0,0],[0.12,0.4],[0.24,1.3],[0.36,2.9],[0.47,4.5],[0.58,5.3],[0.68,5.0],[0.78,3.8],[0.89,2.6],[1,1.9]],
  [[-1,0.1],[-0.84,0.5],[-0.75,1.4],[-0.67,3.2],[-0.59,5.3],[-0.52,6.6],[-0.46,6.7],[-0.39,5.2],[-0.32,2.9],[-0.25,1.0],[-0.18,0.2],[-0.11,0],[-0.04,0],[0.08,0.45],[0.2,1.5],[0.33,3.4],[0.45,5.4],[0.57,6.5],[0.68,6.2],[0.79,4.7],[0.9,3.3],[1,2.5]],
  [[-1,0.2],[-0.85,0.7],[-0.76,1.7],[-0.67,3.6],[-0.59,5.6],[-0.51,6.9],[-0.45,7.0],[-0.37,5.5],[-0.29,3.1],[-0.21,1.1],[-0.13,0.2],[-0.05,0],[0.05,0.5],[0.17,1.7],[0.3,3.9],[0.43,6.2],[0.56,7.5],[0.68,7.2],[0.8,5.5],[0.91,3.9],[1,3.0]],
]
const baTe_Sb: Curve[] = [
  [[-1,0],[-0.76,0],[-0.73,0.4],[-0.7,1.4],[-0.67,2.4],[-0.64,2.8],[-0.61,2.6],[-0.57,2.0],[-0.53,1.0],[-0.49,0.3],[-0.45,0.05],[-0.42,0],[0.32,0],[0.36,0.3],[0.4,1.0],[0.44,1.9],[0.48,2.4],[0.51,2.5],[0.55,2.3],[0.6,2.1],[0.66,2.0],[0.72,1.9],[0.77,2.2],[0.8,1.8],[0.84,0.9],[0.88,0.4],[0.93,0.2],[1,0.15]],
  [[-1,0],[-0.8,0.05],[-0.75,0.5],[-0.7,1.9],[-0.66,3.3],[-0.62,3.9],[-0.58,3.6],[-0.54,2.6],[-0.5,1.4],[-0.46,0.5],[-0.42,0.1],[-0.38,0],[0.26,0],[0.32,0.4],[0.38,1.5],[0.44,2.9],[0.5,3.8],[0.55,3.9],[0.61,3.6],[0.68,3.2],[0.75,2.6],[0.82,1.6],[0.9,0.8],[1,0.4]],
  [[-1,0],[-0.84,0.1],[-0.77,0.8],[-0.71,2.5],[-0.66,4.2],[-0.61,5.0],[-0.57,4.7],[-0.52,3.4],[-0.47,1.8],[-0.42,0.6],[-0.37,0.1],[-0.33,0],[0.2,0],[0.27,0.45],[0.34,1.8],[0.41,3.6],[0.48,4.8],[0.55,5.2],[0.62,4.8],[0.7,4.1],[0.78,3.1],[0.86,2.0],[0.93,1.2],[1,0.8]],
  [[-1,0.05],[-0.87,0.3],[-0.79,1.2],[-0.72,3.0],[-0.66,5.0],[-0.6,5.9],[-0.55,5.6],[-0.5,4.1],[-0.44,2.1],[-0.38,0.7],[-0.32,0.1],[-0.27,0],[0.14,0],[0.22,0.5],[0.3,2.0],[0.38,4.2],[0.46,5.8],[0.54,6.4],[0.62,6.0],[0.7,5.0],[0.79,3.7],[0.88,2.4],[1,1.3]],
  [[-1,0.1],[-0.89,0.5],[-0.81,1.6],[-0.73,3.6],[-0.66,5.6],[-0.6,6.6],[-0.54,6.3],[-0.48,4.6],[-0.41,2.4],[-0.34,0.8],[-0.27,0.1],[-0.21,0],[0.08,0],[0.17,0.55],[0.26,2.3],[0.35,4.9],[0.44,6.9],[0.53,7.8],[0.62,7.4],[0.71,6.1],[0.8,4.5],[0.9,2.9],[1,1.9]],
  [[-1,0.2],[-0.9,0.8],[-0.82,2.0],[-0.74,4.0],[-0.66,6.0],[-0.59,7.0],[-0.53,6.7],[-0.46,4.9],[-0.38,2.5],[-0.3,0.8],[-0.22,0.1],[-0.15,0],[0.02,0],[0.12,0.6],[0.22,2.5],[0.32,5.5],[0.42,8.0],[0.52,9.2],[0.62,8.9],[0.72,7.3],[0.82,5.3],[0.91,3.5],[1,2.4]],
]
const baTe_Bi: Curve[] = [
  [[-1,0.05],[-0.94,0.1],[-0.9,0.05],[-0.85,0.1],[-0.8,0.05],[-0.74,0.1],[-0.7,0.5],[-0.66,1.4],[-0.62,2.2],[-0.58,2.6],[-0.55,2.5],[-0.52,1.9],[-0.48,1.0],[-0.44,0.3],[-0.4,0.05],[-0.37,0],[0.3,0],[0.36,0.2],[0.42,0.9],[0.46,1.9],[0.5,2.5],[0.54,2.4],[0.58,2.3],[0.62,2.3],[0.66,2.0],[0.7,1.6],[0.75,1.2],[0.8,0.8],[0.86,0.4],[0.92,0.15],[1,0.1]],
  [[-1,0.05],[-0.78,0.05],[-0.72,0.6],[-0.67,2.0],[-0.62,3.3],[-0.58,3.8],[-0.54,3.5],[-0.5,2.5],[-0.46,1.3],[-0.42,0.5],[-0.38,0.1],[-0.34,0],[0.24,0],[0.31,0.4],[0.38,1.5],[0.44,2.9],[0.5,3.6],[0.56,3.7],[0.62,3.6],[0.68,3.1],[0.74,2.4],[0.8,1.6],[0.88,0.8],[1,0.3]],
  [[-1,0.05],[-0.82,0.1],[-0.75,0.9],[-0.69,2.6],[-0.63,4.2],[-0.58,4.9],[-0.53,4.6],[-0.48,3.4],[-0.43,1.8],[-0.38,0.7],[-0.33,0.15],[-0.29,0],[0.18,0],[0.26,0.45],[0.34,1.8],[0.42,3.7],[0.49,4.8],[0.56,5.1],[0.63,4.9],[0.7,4.1],[0.78,3.0],[0.86,1.9],[0.94,1.1],[1,0.7]],
  [[-1,0.1],[-0.85,0.3],[-0.77,1.3],[-0.7,3.1],[-0.63,4.9],[-0.57,5.8],[-0.52,5.5],[-0.46,4.0],[-0.4,2.1],[-0.34,0.8],[-0.28,0.15],[-0.23,0],[0.12,0],[0.21,0.5],[0.3,2.0],[0.39,4.3],[0.47,5.9],[0.55,6.4],[0.63,6.1],[0.71,5.0],[0.8,3.6],[0.89,2.3],[1,1.3]],
  [[-1,0.15],[-0.87,0.5],[-0.79,1.7],[-0.71,3.6],[-0.63,5.5],[-0.56,6.4],[-0.51,6.2],[-0.44,4.5],[-0.37,2.3],[-0.3,0.8],[-0.23,0.15],[-0.17,0],[0.06,0],[0.16,0.55],[0.26,2.3],[0.36,5.0],[0.45,7.0],[0.54,7.7],[0.63,7.4],[0.72,6.1],[0.82,4.4],[0.91,2.9],[1,1.9]],
  [[-1,0.25],[-0.88,0.8],[-0.8,2.0],[-0.72,4.0],[-0.63,5.9],[-0.56,6.8],[-0.5,6.6],[-0.42,4.8],[-0.34,2.4],[-0.26,0.8],[-0.18,0.15],[-0.11,0],[0,0],[0.11,0.6],[0.22,2.5],[0.33,5.6],[0.43,8.0],[0.53,9.1],[0.63,8.9],[0.73,7.3],[0.83,5.3],[0.92,3.5],[1,2.4]],
]

const xTicks = [-1, -0.8, -0.6, -0.4, -0.2, 0, 0.2, 0.4, 0.6, 0.8, 1]
const xLabels = [-0.8, -0.4, 0, 0.4, 0.8]
const yTicks = [0, 1, 2, 3, 4, 5, 6, 7, 8, 9, 10]
const yLabels = [0, 2, 4, 6, 8, 10]
const rowNames = ['X=Ca', 'X=Sr', 'X=Ba']
const colNames = ['Z=S', 'Z=Se', 'Z=Te']

const BLUE = '#1a74c0'
const GREEN = '#5db31f'
const YELLOW = '#f2b21b'
const RED = '#e05318'
const fade = [1, 0.5, 0.37, 0.27, 0.19, 0.12]

const PW = 168
const PH = 126
const AXW = 60
const TOP = 12
const colLeft = [61, 237, 413]
const rowTop = [25, 192, 360]
const FONT = '"Liberation Sans", Arial, Helvetica, sans-serif'

type Series = { name: string; curves: Curve[]; color: string }
const panels: { row: number; col: number; series: Series[] }[] = [
  { row: 0, col: 0, series: [{ name: 'Y=P', curves: caS_P, color: BLUE }, { name: 'Y=As', curves: caS_As, color: GREEN }] },
  { row: 0, col: 1, series: [{ name: 'Y=P', curves: caSe_P, color: BLUE }, { name: 'Y=As', curves: caSe_As, color: GREEN }, { name: 'Y=Sb', curves: caSe_Sb, color: YELLOW }] },
  { row: 0, col: 2, series: [{ name: 'Y=Sb', curves: caTe_Sb, color: YELLOW }, { name: 'Y=Bi', curves: caTe_Bi, color: RED }] },
  { row: 1, col: 0, series: [{ name: 'Y=P', curves: srS_P, color: BLUE }, { name: 'Y=As', curves: srS_As, color: GREEN }] },
  { row: 1, col: 1, series: [{ name: 'Y=P', curves: srSe_P, color: BLUE }, { name: 'Y=As', curves: srSe_As, color: GREEN }, { name: 'Y=Sb', curves: srSe_Sb, color: YELLOW }] },
  { row: 1, col: 2, series: [{ name: 'Y=Sb', curves: srTe_Sb, color: YELLOW }, { name: 'Y=Bi', curves: srTe_Bi, color: RED }] },
  { row: 2, col: 0, series: [{ name: 'Y=P', curves: baS_P, color: BLUE }, { name: 'Y=As', curves: baS_As, color: GREEN }] },
  { row: 2, col: 1, series: [{ name: 'Y=P', curves: baSe_P, color: BLUE }, { name: 'Y=As', curves: baSe_As, color: GREEN }, { name: 'Y=Sb', curves: baSe_Sb, color: YELLOW }] },
  { row: 2, col: 2, series: [{ name: 'Y=Sb', curves: baTe_Sb, color: YELLOW }, { name: 'Y=Bi', curves: baTe_Bi, color: RED }] },
]

const fmtX = (v: number) => (Math.abs(v) < 1e-9 ? '0' : `${v < 0 ? '\u2212' : ''}${Math.abs(v).toFixed(1)}`)
const isIn = (arr: number[], v: number) => arr.some((a) => Math.abs(a - v) < 1e-6)

// inward gnuplot-style ticks on all four sides, labels outside
function renderXTick(p: any) {
  const { x, y, payload } = p
  const v = payload.value as number
  const major = isIn(xLabels, v)
  const len = major ? 4 : 2
  return (
    <g>
      <line x1={x} x2={x} y1={y} y2={y - len} stroke="#222" />
      <line x1={x} x2={x} y1={y - PH} y2={y - PH + len} stroke="#222" />
      {major && (
        <text x={x} y={y + 18} textAnchor="middle" fontSize={12} fontFamily={FONT} fill="#000">
          {fmtX(v)}
        </text>
      )}
    </g>
  )
}

function makeYTick(showLabels: boolean) {
  return (p: any) => {
    const { x, y, payload } = p
    const v = payload.value as number
    const major = isIn(yLabels, v)
    const len = major ? 4 : 2
    return (
      <g>
        <line x1={x} x2={x + len} y1={y} y2={y} stroke="#222" />
        <line x1={x + PW} x2={x + PW - len} y1={y} y2={y} stroke="#222" />
        {showLabels && major && (
          <text x={x - 9} y={y + 4} textAnchor="end" fontSize={12} fontFamily={FONT} fill="#000">
            {v.toFixed(1)}
          </text>
        )}
      </g>
    )
  }
}

function Panel({ row, col, series }: { row: number; col: number; series: Series[] }) {
  // faint (hot) curves first, bold curves on top
  const order: { s: Series; k: number }[] = []
  for (let k = 5; k >= 0; k--) series.forEach((s) => order.push({ s, k }))
  return (
    <div style={{ position: 'absolute', left: colLeft[col] - AXW, top: rowTop[row] - TOP }}>
      <LineChart width={AXW + PW + 4} height={PH + TOP + 20} margin={{ top: TOP, right: 4, bottom: 0, left: 0 }}>
        <XAxis
          xAxisId="b" type="number" dataKey="x" domain={[-1, 1]} allowDataOverflow
          ticks={xTicks} interval={0} height={20} tickSize={0} tickMargin={0}
          axisLine={false} tickLine={false} tick={renderXTick}
        />
        <YAxis
          yAxisId="l" type="number" domain={[0, 10]} allowDataOverflow
          ticks={yTicks} interval={0} width={AXW} tickSize={0} tickMargin={0}
          axisLine={false} tickLine={false} tick={makeYTick(col === 0)}
        />
        {order.map(({ s, k }) => (
          <Line
            key={`${s.name}-${k}`}
            xAxisId="b"
            yAxisId="l"
            data={s.curves[k].map(([x, y]) => ({ x, y }))}
            dataKey="y"
            type="monotone"
            stroke={s.color}
            strokeOpacity={fade[k]}
            strokeWidth={k === 0 ? 2 : 1.8}
            dot={false}
            activeDot={false}
            isAnimationActive={false}
          />
        ))}
        <ReferenceArea xAxisId="b" yAxisId="l" x1={-1} x2={1} y1={0} y2={10} fill="none" stroke="#222" strokeWidth={1} />
      </LineChart>
    </div>
  )
}

function Overlay() {
  const colMid = colLeft.map((l) => l + PW / 2)
  return (
    <svg width={582} height={525} style={{ position: 'absolute', left: 0, top: 0, pointerEvents: 'none' }}
      fontFamily={FONT} fontSize={12}>
      {colNames.map((n, i) => (
        <text key={n} x={colMid[i]} y={11} textAnchor="middle">{n}</text>
      ))}
      {rowNames.map((n, i) => (
        <text key={n} x={0} y={[10, 179, 345][i]}>{n}</text>
      ))}
      {rowTop.map((t, i) => (
        <text key={i} transform={`translate(14,${t + PH / 2}) rotate(-90)`} textAnchor="middle" fontSize={13}>
          <tspan>σ S</tspan>
          <tspan dy={-5} fontSize={8}>2</tspan>
          <tspan dy={5}>(mW/mK</tspan>
          <tspan dy={-5} fontSize={8}>2</tspan>
          <tspan dy={5}>)</tspan>
        </text>
      ))}
      {colMid.map((m, i) => (
        <text key={i} x={m} y={523} textAnchor="middle">μ (eV)</text>
      ))}
      {panels.map((p, pi) =>
        p.series.map((s, i) => {
          const y = rowTop[p.row] + 9.5 + 14 * i
          const l = colLeft[p.col]
          return (
            <g key={`${pi}-${i}`}>
              <text x={l + 56} y={y + 4}>{s.name}</text>
              <line x1={l + 93} x2={l + 105} y1={y} y2={y} stroke={s.color} strokeWidth={2} />
            </g>
          )
        })
      )}
    </svg>
  )
}

export default function App() {
  return (
    <div style={{ position: 'absolute', left: 0, top: 0, width: 582, height: 525, background: '#fff', fontFamily: FONT }}>
      {panels.map((p) => (
        <Panel key={`${p.row}-${p.col}`} {...p} />
      ))}
      <Overlay />
    </div>
  )
}
